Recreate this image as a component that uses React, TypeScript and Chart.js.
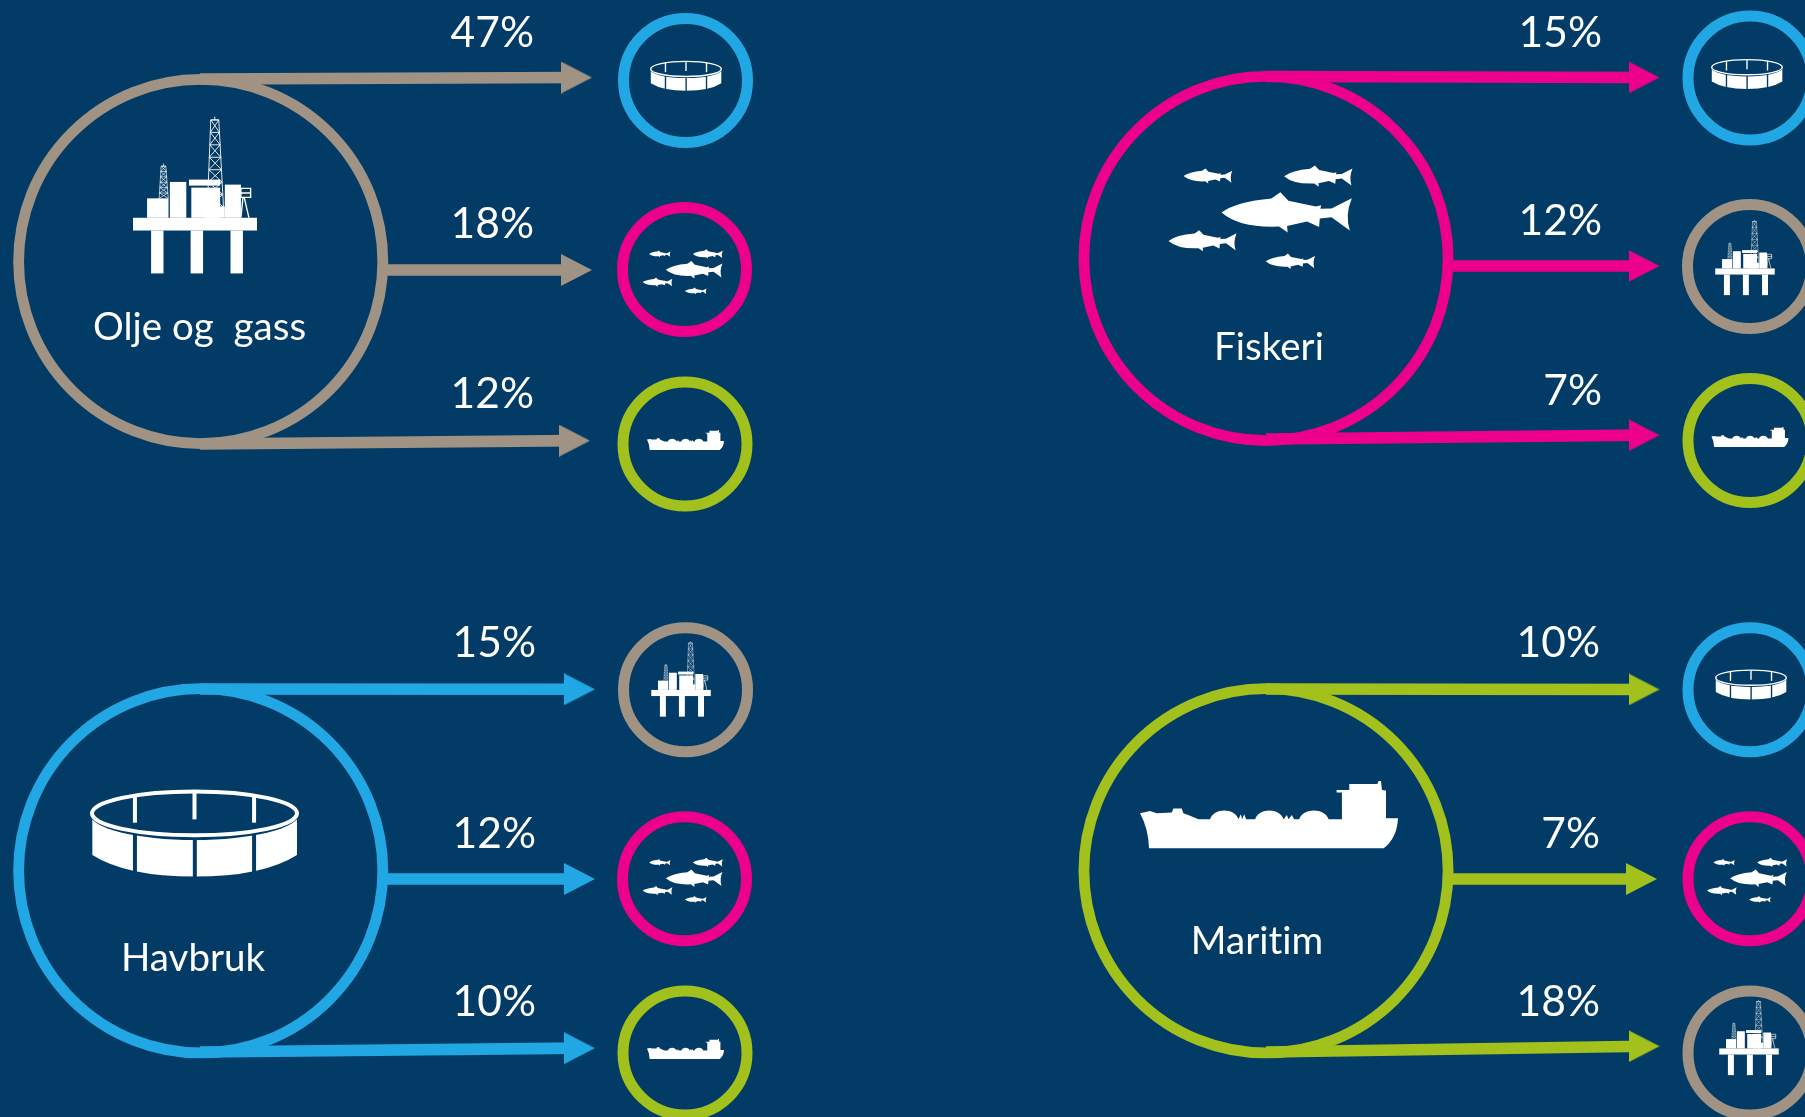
import React, { useEffect, useRef } from "react";
import { Chart, registerables } from "chart.js";

Chart.register(...registerables);

// ---------- data ----------
const sectors = ["Olje og  gass", "Fiskeri", "Havbruk", "Maritim"];
const oljeShares = [47, 18, 12];
const fiskeriShares = [15, 12, 7];
const havbrukShares = [15, 12, 10];
const maritimShares = [10, 7, 18];
const oljeTargets = ["havbruk", "fiskeri", "maritim"];
const fiskeriTargets = ["havbruk", "olje", "maritim"];
const havbrukTargets = ["olje", "fiskeri", "maritim"];
const maritimTargets = ["havbruk", "fiskeri", "olje"];

// ---------- layout (separate from the values) ----------
const W = 1805;
const H = 1117;
const BG = "#023C66";
const COLORS: any = { olje: "#A09384", fiskeri: "#EC008C", havbruk: "#22A7E5", maritim: "#A2C11C" };
const FONT = "Lato";

const panels = [
  {
    kind: "olje", name: sectors[0], shares: oljeShares, targets: oljeTargets,
    ring: [200.7, 261.5],
    icon: [195, 195, 124],
    label: [199.5, 340],
    arrows: [[200, 79, 592, 77.5], [386, 270, 592, 270], [200, 444, 590, 440.5]],
    pctRight: 534, pctBase: [47, 238, 408],
    small: [[685.5, 80.5], [684.5, 269.5], [685, 444]],
    smallIcon: [[686, 75.7], [682.7, 272], [685.5, 440]],
  },
  {
    kind: "fiskeri", name: sectors[1], shares: fiskeriShares, targets: fiskeriTargets,
    ring: [1266, 258.5],
    icon: [1260.5, 217.7, 184],
    label: [1269, 360],
    arrows: [[1266, 76.5, 1659.5, 77.5], [1451, 266, 1659.5, 266], [1266, 439, 1659.5, 435]],
    pctRight: 1602, pctBase: [47, 235, 405],
    small: [[1750, 78], [1749.5, 266.5], [1750, 440.5]],
    smallIcon: [[1747, 74], [1745, 257.5], [1750, 437]],
  },
  {
    kind: "havbruk", name: sectors[2], shares: havbrukShares, targets: havbrukTargets,
    ring: [200.7, 870.8],
    icon: [194.5, 833, 209],
    label: [193, 971],
    arrows: [[200, 689, 595, 689.3], [386, 879, 595, 879], [200, 1052, 595, 1048]],
    pctRight: 536, pctBase: [657, 847.7, 1016],
    small: [[685.5, 689.7], [684.5, 878.7], [685, 1053]],
    smallIcon: [[681, 679], [682.7, 880.5], [685.5, 1049]],
  },
  {
    kind: "maritim", name: sectors[3], shares: maritimShares, targets: maritimTargets,
    ring: [1266, 870.8],
    icon: [1269, 814.6, 258],
    label: [1257, 954],
    arrows: [[1266, 689, 1659.5, 689.5], [1451, 879, 1657, 879], [1266, 1052, 1659.5, 1046]],
    pctRight: 1600, pctBase: [657, 847.7, 1016],
    small: [[1750, 689.7], [1750, 878.7], [1750, 1053]],
    smallIcon: [[1751, 684.5], [1747, 880.5], [1749, 1037.5]],
  },
];
const SMALL_ICON_W: any = { olje: 59.5, fiskeri: 80, havbruk: 72, maritim: 77 };
const HEAD_LEN = 31;
const HEAD_H = 32;
const SHAFT = 11.6;
const BIG_R = 187.5;
const BIG_BW = 10.8;
const SMALL_R = 67.5;
const SMALL_BW = 11;

// ---------- icons ----------
function rig(c: CanvasRenderingContext2D) {
  c.fillStyle = "#fff";
  c.strokeStyle = "#fff";
  const rects = [
    [94, 360, 37, 128], [212, 360, 37, 128], [331, 360, 37, 128], [40, 322, 370, 38],
    [82, 264, 64, 58], [150, 215, 49, 107], [214, 232, 86, 90], [207, 208, 93, 18],
    [314, 223, 48, 99], [250, 288, 64, 34],
  ];
  rects.forEach((r) => c.fillRect(r[0], r[1], r[2], r[3]));
  const lattice = (bl: number, br: number, tl: number, tr: number, yb: number, yt: number, tip: number, n: number, lw: number) => {
    c.lineWidth = lw;
    c.beginPath();
    c.moveTo(bl, yb); c.lineTo(tl, yt); c.lineTo(tr, yt); c.lineTo(br, yb);
    c.moveTo((tl + tr) / 2, yt); c.lineTo((tl + tr) / 2, tip);
    for (let i = 0; i < n; i++) {
      const a = i / n, b = (i + 1) / n;
      const l0 = bl + (tl - bl) * a, r0 = br + (tr - br) * a, y0 = yb + (yt - yb) * a;
      const l1 = bl + (tl - bl) * b, r1 = br + (tr - br) * b, y1 = yb + (yt - yb) * b;
      c.moveTo(l0, y0); c.lineTo(r1, y1);
      c.moveTo(r0, y0); c.lineTo(l1, y1);
      c.moveTo(l1, y1); c.lineTo(r1, y1);
    }
    c.stroke();
  };
  lattice(262, 310, 272, 296, 290, 30, 20, 7, 2.6);
  lattice(118, 145, 124, 138, 264, 168, 160, 6, 2);
  c.lineWidth = 4;
  c.beginPath();
  c.rect(362, 234, 29, 27);
  c.moveTo(362, 248); c.lineTo(391, 248);
  c.moveTo(368, 262); c.lineTo(362, 322);
  c.moveTo(372, 262); c.lineTo(386, 322);
  c.stroke();
}

const FISH_X = 516, FISH_Y = 277, FISH_W = 390;
function fishShape(c: CanvasRenderingContext2D, x: number, y: number, w: number) {
  const s = w / FISH_W;
  c.save();
  c.translate(x, y);
  c.scale(s, s);
  c.translate(-FISH_X, -FISH_Y);
  c.beginPath();
  c.moveTo(516, 338);
  c.quadraticCurveTo(560, 305, 665, 296);
  c.lineTo(692, 277);
  c.lineTo(716, 303);
  c.lineTo(798, 320);
  c.lineTo(814, 316);
  c.lineTo(812, 327);
  c.lineTo(845, 326);
  c.lineTo(906, 295);
  c.quadraticCurveTo(885, 345, 900, 392);
  c.lineTo(845, 352);
  c.lineTo(810, 356);
  c.lineTo(808, 381);
  c.lineTo(772, 365);
  c.lineTo(712, 378);
  c.lineTo(714, 398);
  c.lineTo(688, 380);
  c.quadraticCurveTo(570, 385, 516, 338);
  c.closePath();
  c.fill();
  c.restore();
}
function fishes(c: CanvasRenderingContext2D) {
  c.fillStyle = "#fff";
  fishShape(c, 516, 277, 390);
  fishShape(c, 703, 197, 205);
  fishShape(c, 402, 206, 146);
  fishShape(c, 357, 391, 204);
  fishShape(c, 648, 461, 148);
}

function cage(c: CanvasRenderingContext2D) {
  c.fillStyle = "#fff";
  c.beginPath();
  c.moveTo(97, 170);
  c.lineTo(97, 285);
  c.quadraticCurveTo(200, 350, 404, 350);
  c.quadraticCurveTo(610, 350, 712, 285);
  c.lineTo(712, 170);
  c.closePath();
  c.fill();
  c.fillStyle = BG;
  c.beginPath();
  c.ellipse(404, 160, 316, 80, 0, 0, Math.PI * 2);
  c.fill();
  [225, 405, 583].forEach((x) => c.fillRect(x - 6, 200, 12, 160));
  c.strokeStyle = "#fff";
  c.lineWidth = 12;
  c.beginPath();
  c.ellipse(404, 160, 308, 66, 0, 0, Math.PI * 2);
  c.stroke();
  c.fillStyle = "#fff";
  c.fillRect(219, 105, 12, 83);
  c.fillRect(398, 96, 12, 82);
  c.fillRect(577, 105, 12, 83);
}

function ship(c: CanvasRenderingContext2D) {
  c.fillStyle = "#fff";
  c.beginPath();
  c.moveTo(60, 160);
  c.lineTo(90, 153);
  c.lineTo(110, 160);
  c.lineTo(155, 158);
  c.lineTo(160, 146);
  c.lineTo(185, 146);
  c.lineTo(190, 160);
  c.lineTo(212, 168);
  c.lineTo(235, 178);
  c.lineTo(270, 178);
  c.bezierCurveTo(280, 143, 345, 143, 355, 178);
  c.lineTo(362, 163); c.lineTo(366, 178); c.lineTo(372, 163); c.lineTo(378, 178);
  c.lineTo(405, 178);
  c.bezierCurveTo(415, 143, 480, 143, 490, 178);
  c.lineTo(500, 165); c.lineTo(505, 178); c.lineTo(515, 165); c.lineTo(522, 178);
  c.lineTo(537, 178);
  c.bezierCurveTo(547, 143, 615, 143, 625, 178);
  c.lineTo(665, 178);
  c.lineTo(665, 98);
  c.lineTo(649, 98);
  c.lineTo(649, 90);
  c.lineTo(687, 90);
  c.lineTo(687, 72);
  c.lineTo(771, 72);
  c.lineTo(775, 63);
  c.lineTo(782, 63);
  c.lineTo(785, 90);
  c.lineTo(797, 92);
  c.lineTo(797, 175);
  c.lineTo(833, 175);
  c.quadraticCurveTo(830, 235, 790, 265);
  c.lineTo(87, 265);
  c.quadraticCurveTo(85, 205, 60, 160);
  c.closePath();
  c.fill();
}

const ICONS: any = {
  olje: { draw: rig, box: [40, 20, 370, 468] },
  fiskeri: { draw: fishes, box: [357, 197, 551, 313] },
  havbruk: { draw: cage, box: [90, 88, 628, 262] },
  maritim: { draw: ship, box: [60, 63, 773, 202] },
};

function drawIcon(c: CanvasRenderingContext2D, kind: string, cx: number, cy: number, w: number) {
  const ic = ICONS[kind];
  const s = w / ic.box[2];
  c.save();
  c.translate(cx, cy);
  c.scale(s, s);
  c.translate(-(ic.box[0] + ic.box[2] / 2), -(ic.box[1] + ic.box[3] / 2));
  ic.draw(c);
  c.restore();
}

function headCanvas(color: string) {
  const cv = document.createElement("canvas");
  cv.width = HEAD_LEN;
  cv.height = HEAD_H;
  const c = cv.getContext("2d")!;
  c.fillStyle = color;
  c.beginPath();
  c.moveTo(0, 0);
  c.lineTo(HEAD_LEN, HEAD_H / 2);
  c.lineTo(0, HEAD_H);
  c.closePath();
  c.fill();
  return cv;
}

const overlay = {
  id: "overlay",
  afterDatasetsDraw(chart: any) {
    const c: any = chart.ctx;
    const X = chart.scales.x, Y = chart.scales.y;
    c.save();
    c.fillStyle = "#fff";
    c.textBaseline = "alphabetic";
    c.letterSpacing = "0.02px";
    panels.forEach((p) => {
      drawIcon(c, p.kind, X.getPixelForValue(p.icon[0]), Y.getPixelForValue(p.icon[1]), p.icon[2]);
      p.targets.forEach((t, i) => {
        drawIcon(c, t, X.getPixelForValue(p.smallIcon[i][0]), Y.getPixelForValue(p.smallIcon[i][1]), SMALL_ICON_W[t]);
      });
      c.fillStyle = "#fff";
      c.font = `38.5px ${FONT}`;
      c.textAlign = "center";
      c.fillText(p.name, X.getPixelForValue(p.label[0]), Y.getPixelForValue(p.label[1]));
      c.font = `42.5px ${FONT}`;
      c.textAlign = "right";
      p.shares.forEach((v, i) => {
        c.fillText(`${v}%`, X.getPixelForValue(p.pctRight), Y.getPixelForValue(p.pctBase[i]));
      });
    });
    c.restore();
  },
};

export default function App() {
  const ref = useRef<HTMLCanvasElement>(null);
  useEffect(() => {
    const datasets: any[] = [];
    panels.forEach((p) => {
      const col = COLORS[p.kind];
      const head = headCanvas(col);
      p.arrows.forEach((a) => {
        const t = (a[2] - HEAD_LEN / 2 - a[0]) / (a[2] - a[0]);
        datasets.push({
          type: "line",
          data: [{ x: a[0], y: a[1] }, { x: a[2] - HEAD_LEN / 2, y: a[1] + (a[3] - a[1]) * t }],
          borderColor: col,
          borderWidth: SHAFT,
          borderCapStyle: "butt",
          pointStyle: (ctx: any) => (ctx.dataIndex === 1 ? head : false),
          pointRadius: (ctx: any) => (ctx.dataIndex === 1 ? 16 : 0),
          pointBorderWidth: 0,
          fill: false,
          tension: 0,
        });
      });
      datasets.push({
        type: "scatter",
        data: [{ x: p.ring[0], y: p.ring[1] }],
        pointRadius: BIG_R - BIG_BW / 2,
        pointBorderWidth: BIG_BW,
        pointBorderColor: col,
        pointBackgroundColor: "transparent",
      });
      datasets.push({
        type: "scatter",
        data: p.small.map((s) => ({ x: s[0], y: s[1] })),
        pointRadius: SMALL_R - SMALL_BW / 2,
        pointBorderWidth: SMALL_BW,
        pointBorderColor: p.targets.map((t) => COLORS[t]),
        pointBackgroundColor: "transparent",
      });
    });
    const chart = new Chart(ref.current!, {
      type: "scatter",
      data: { datasets },
      options: {
        animation: false,
        responsive: false,
        devicePixelRatio: 1,
        layout: { padding: 0, autoPadding: false },
        plugins: { legend: { display: false }, tooltip: { enabled: false } },
        events: [],
        scales: {
          x: { type: "linear", min: 0, max: W, display: false },
          y: { type: "linear", min: 0, max: H, reverse: true, display: false },
        },
      },
      plugins: [overlay],
    } as any);
    return () => chart.destroy();
  }, []);
  return (
    <div style={{ position: "fixed", left: 0, top: 0, width: W, height: H, background: BG, overflow: "hidden" }}>
      <canvas ref={ref} width={W} height={H} style={{ display: "block" }} />
    </div>
  );
}
